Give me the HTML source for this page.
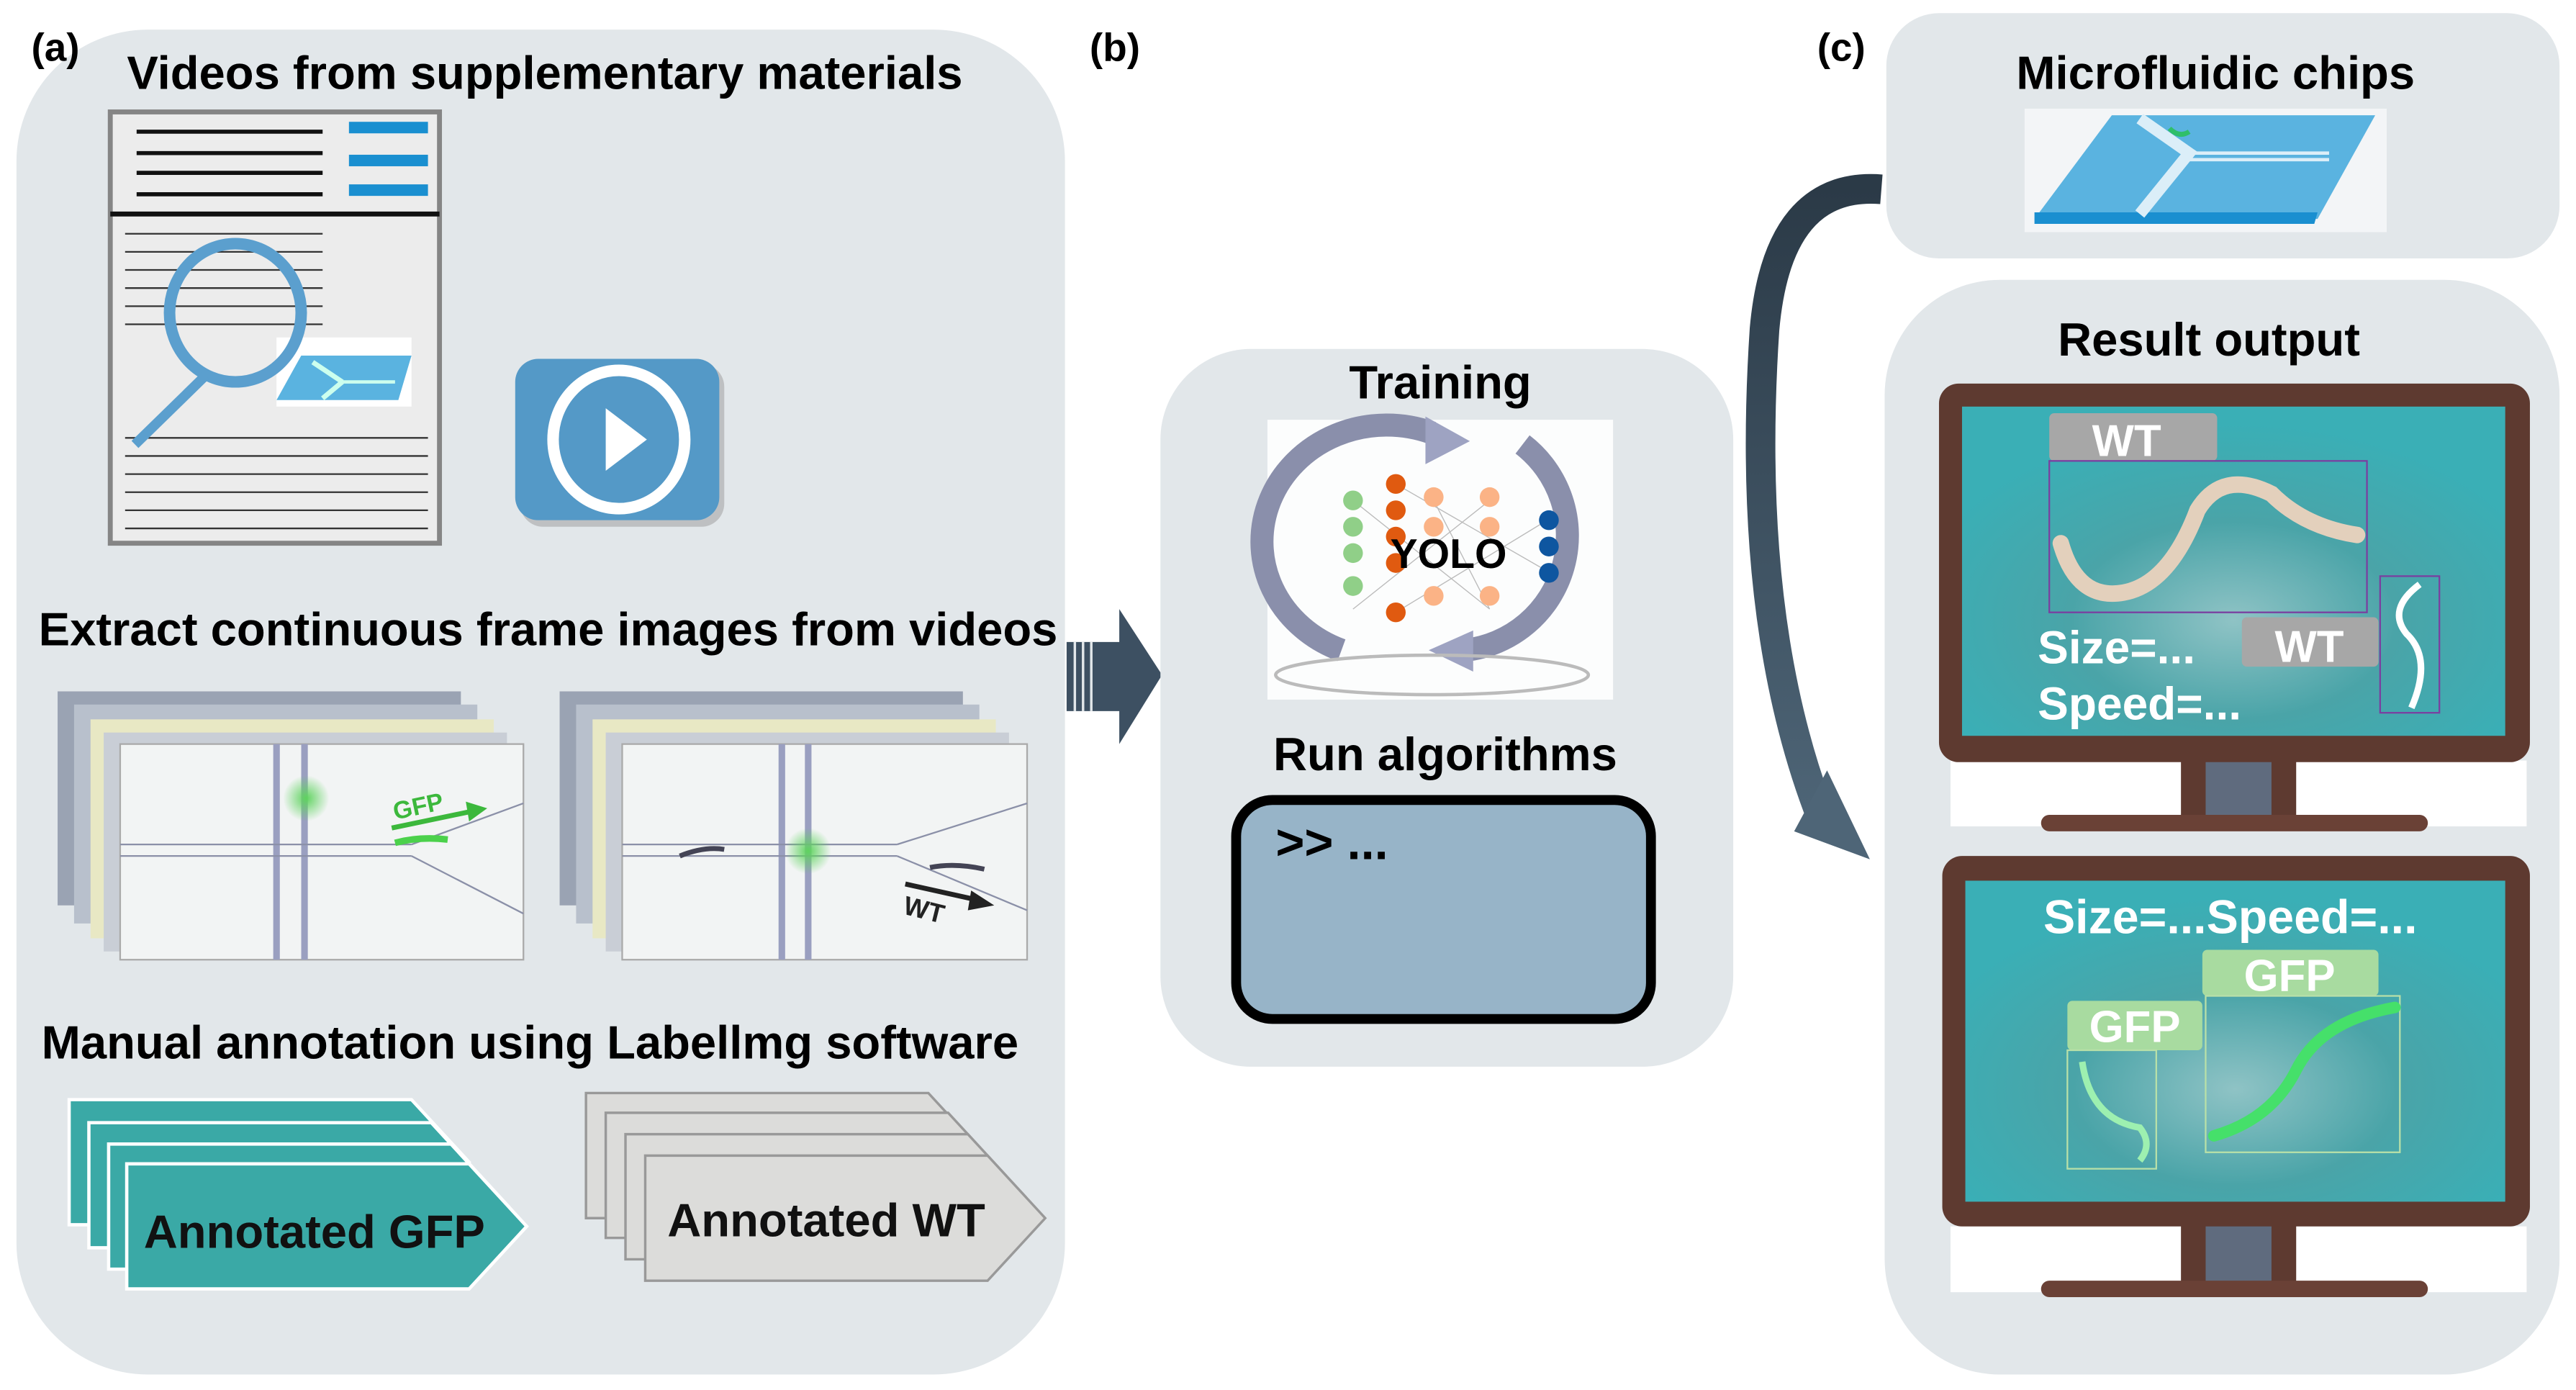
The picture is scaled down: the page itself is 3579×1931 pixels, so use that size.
<!DOCTYPE html>
<html><head><meta charset="utf-8"><style>
html,body{margin:0;padding:0;background:#fff;width:3579px;height:1931px;overflow:hidden}
svg{display:block}
text{font-family:"Liberation Sans",Arial,sans-serif;font-weight:bold}
</style></head><body>
<svg width="3579" height="1931" viewBox="0 0 1565 844.4" preserveAspectRatio="none" xmlns="http://www.w3.org/2000/svg">
<defs>
<radialGradient id="scr" cx="0.5" cy="0.65" r="0.6"><stop offset="0" stop-color="#8fc3c5"/><stop offset="0.5" stop-color="#4aa4a8"/><stop offset="1" stop-color="#3aafb6"/></radialGradient>
<linearGradient id="arr" x1="0" y1="0" x2="0" y2="1"><stop offset="0" stop-color="#2b3a47"/><stop offset="1" stop-color="#4e6577"/></linearGradient>
<radialGradient id="glow"><stop offset="0" stop-color="#5fd35f"/><stop offset="1" stop-color="#5fd35f" stop-opacity="0"/></radialGradient>
</defs>
<!-- panel a -->
<rect x="10" y="18" width="637" height="817" rx="80" fill="#e2e7ea"/>
<text x="19" y="37" font-size="24">(a)</text>
<text x="331" y="54" font-size="28.5" text-anchor="middle">Videos from supplementary materials</text>
<!-- document -->
<rect x="67" y="68" width="200" height="262" fill="#ececec" stroke="#858585" stroke-width="3"/>
<line x1="67" y1="130" x2="267" y2="130" stroke="#111" stroke-width="3"/>
<g stroke="#111" stroke-width="2.5"><line x1="83" y1="80" x2="196" y2="80"/><line x1="83" y1="93" x2="196" y2="93"/><line x1="83" y1="105" x2="196" y2="105"/><line x1="83" y1="118" x2="196" y2="118"/></g>
<g fill="#1a8fd0"><rect x="212" y="74" width="48" height="7"/><rect x="212" y="94" width="48" height="7"/><rect x="212" y="112" width="48" height="7"/></g>
<g stroke="#333" stroke-width="1"><line x1="76" y1="142" x2="196" y2="142"/><line x1="76" y1="153" x2="196" y2="153"/><line x1="76" y1="164" x2="196" y2="164"/><line x1="76" y1="175" x2="196" y2="175"/><line x1="76" y1="186" x2="196" y2="186"/><line x1="76" y1="197" x2="196" y2="197"/>
<line x1="76" y1="266" x2="260" y2="266"/><line x1="76" y1="277" x2="260" y2="277"/><line x1="76" y1="288" x2="260" y2="288"/><line x1="76" y1="299" x2="260" y2="299"/><line x1="76" y1="310" x2="260" y2="310"/><line x1="76" y1="321" x2="260" y2="321"/></g>
<rect x="168" y="205" width="82" height="42" fill="#fff"/>
<polygon points="183,216 250,216 242,243 168,243" fill="#5ab3e0"/>
<line x1="190" y1="220" x2="208" y2="232" stroke="#cfe" stroke-width="3"/><line x1="208" y1="232" x2="196" y2="242" stroke="#cfe" stroke-width="3"/><line x1="208" y1="232" x2="240" y2="232" stroke="#cfe" stroke-width="2"/>
<ellipse cx="143" cy="190" rx="40" ry="42" fill="none" stroke="#5b9fce" stroke-width="7"/>
<line x1="125" y1="228" x2="82" y2="270" stroke="#5b9fce" stroke-width="6"/>
<!-- play -->
<rect x="316" y="221" width="124" height="99" rx="14" fill="#999" opacity="0.5"/>
<rect x="313" y="218" width="124" height="98" rx="14" fill="#5499c7"/>
<ellipse cx="376" cy="267" rx="40" ry="42" fill="none" stroke="#fff" stroke-width="7"/>
<polygon points="368,248 368,286 393,267" fill="#fff"/>
<!-- extract -->
<text x="333" y="392" font-size="28.5" text-anchor="middle">Extract continuous frame images from videos</text>
<g>
<rect x="35" y="420" width="245" height="130" fill="#9aa3b3"/><rect x="45" y="428" width="245" height="133" fill="#b8c0cc"/><rect x="55" y="437" width="245" height="133" fill="#e8e8c4"/><rect x="63" y="445" width="245" height="133" fill="#c9ced6"/>
<rect x="73" y="452" width="245" height="131" fill="#f2f4f4" stroke="#aaa"/>
<rect x="166" y="452" width="4" height="131" fill="#9a9fc0"/><rect x="183" y="452" width="4" height="131" fill="#9a9fc0"/>
<line x1="73" y1="513" x2="250" y2="513" stroke="#8b90a8"/><line x1="73" y1="520" x2="250" y2="520" stroke="#8b90a8"/>
<line x1="250" y1="513" x2="318" y2="488" stroke="#8b90a8"/><line x1="250" y1="520" x2="318" y2="555" stroke="#8b90a8"/>
<circle cx="186" cy="485" r="14" fill="url(#glow)"/>
<path d="M240 512 Q255 508 272 510" stroke="#4bd14b" stroke-width="4" fill="none"/>
<line x1="238" y1="503" x2="286" y2="493" stroke="#3cb83c" stroke-width="3"/><polygon points="296,491 283,487 285,499" fill="#3cb83c"/>
<text x="240" y="498" font-size="15" fill="#3cb83c" transform="rotate(-12 240 498)">GFP</text>
</g>
<g>
<rect x="340" y="420" width="245" height="130" fill="#9aa3b3"/><rect x="350" y="428" width="245" height="133" fill="#b8c0cc"/><rect x="360" y="437" width="245" height="133" fill="#e8e8c4"/><rect x="368" y="445" width="245" height="133" fill="#c9ced6"/>
<rect x="378" y="452" width="246" height="131" fill="#f2f4f4" stroke="#aaa"/>
<rect x="473" y="452" width="4" height="131" fill="#9a9fc0"/><rect x="489" y="452" width="4" height="131" fill="#9a9fc0"/>
<line x1="378" y1="513" x2="545" y2="513" stroke="#8b90a8"/><line x1="378" y1="520" x2="545" y2="520" stroke="#8b90a8"/>
<line x1="545" y1="513" x2="624" y2="488" stroke="#8b90a8"/><line x1="545" y1="520" x2="624" y2="553" stroke="#8b90a8"/>
<circle cx="491" cy="517" r="14" fill="url(#glow)"/>
<path d="M413 520 Q428 514 440 516" stroke="#445" stroke-width="3" fill="none"/>
<path d="M565 527 Q580 524 598 528" stroke="#445" stroke-width="3" fill="none"/>
<line x1="550" y1="537" x2="595" y2="547" stroke="#222" stroke-width="3"/><polygon points="604,550 590,541 588,553" fill="#222"/>
<text x="548" y="555" font-size="16" fill="#222" transform="rotate(14 548 555)">WT</text>
</g>
<text x="322" y="643" font-size="28.5" text-anchor="middle">Manual annotation using Labellmg software</text>
<!-- GFP tags -->
<g fill="#3aa9a6" stroke="#fff" stroke-width="2">
<polygon points="42,668 250,668 285,706 250,744 42,744"/>
<polygon points="54,682 262,682 297,720 262,758 54,758"/>
<polygon points="66,695 274,695 309,733 274,771 66,771"/>
<polygon points="77,707 285,707 320,745 285,783 77,783"/>
</g>
<text x="191" y="758" font-size="28.5" text-anchor="middle" fill="#111">Annotated GFP</text>
<g fill="#dcdcda" stroke="#999" stroke-width="1.5">
<polygon points="356,664 564,664 599,702 564,740 356,740"/>
<polygon points="368,676 576,676 611,714 576,752 368,752"/>
<polygon points="380,689 588,689 623,727 588,765 380,765"/>
<polygon points="392,702 600,702 635,740 600,778 392,778"/>
</g>
<text x="502" y="751" font-size="28.5" text-anchor="middle" fill="#111">Annotated WT</text>
<!-- big arrow a->b -->
<polygon points="648,390 680,390 680,370 706,410 680,452 680,432 648,432" fill="#3d5062"/>
<g stroke="#e2e7ea" stroke-width="1.5"><line x1="653" y1="390" x2="653" y2="432"/><line x1="658" y1="390" x2="658" y2="432"/><line x1="663" y1="390" x2="663" y2="432"/></g>
<!-- panel b -->
<text x="662" y="37" font-size="24">(b)</text>
<rect x="705" y="212" width="348" height="436" rx="55" fill="#e2e7ea"/>
<text x="875" y="242" font-size="28.5" text-anchor="middle">Training</text>
<rect x="770" y="255" width="210" height="170" fill="#fff" opacity="0.9"/>
<path d="M870 263 A75 70 0 0 0 815 395" stroke="#8a8fab" stroke-width="14" fill="none"/>
<polygon points="866,253 893,268 866,282" fill="#9ea3c2"/>
<path d="M925 270 A70 70 0 0 1 890 395" stroke="#8a8fab" stroke-width="14" fill="none"/>
<polygon points="895,383 868,395 895,408" fill="#9ea3c2"/>
<g stroke="#bbb" stroke-width="0.6"><line x1="822" y1="304" x2="905" y2="370"/><line x1="822" y1="370" x2="905" y2="304"/><line x1="848" y1="294" x2="940" y2="347"/><line x1="848" y1="372" x2="940" y2="316"/><line x1="870" y1="302" x2="905" y2="370"/></g>
<g fill="#90cf88"><circle cx="822" cy="304" r="6"/><circle cx="822" cy="320" r="6"/><circle cx="822" cy="336" r="6"/><circle cx="822" cy="356" r="6"/></g>
<g fill="#e05a10"><circle cx="848" cy="294" r="6"/><circle cx="848" cy="310" r="6"/><circle cx="848" cy="326" r="6"/><circle cx="848" cy="342" r="6"/><circle cx="848" cy="372" r="6"/></g>
<g fill="#fbb386"><circle cx="871" cy="302" r="6"/><circle cx="871" cy="320" r="6"/><circle cx="871" cy="362" r="6"/><circle cx="905" cy="302" r="6"/><circle cx="905" cy="320" r="6"/><circle cx="905" cy="362" r="6"/></g>
<g fill="#0e56a0"><circle cx="941" cy="316" r="6"/><circle cx="941" cy="332" r="6"/><circle cx="941" cy="348" r="6"/></g>
<text x="880" y="345" font-size="25" text-anchor="middle">YOLO</text>
<ellipse cx="870" cy="410" rx="95" ry="12" fill="none" stroke="#bbb" stroke-width="2"/>
<text x="878" y="468" font-size="28.5" text-anchor="middle">Run algorithms</text>
<rect x="751" y="486" width="252" height="133" rx="22" fill="#97b4c8" stroke="#000" stroke-width="6"/>
<text x="775" y="522" font-size="30">&gt;&gt; ...</text>
<!-- panel c -->
<text x="1104" y="37" font-size="24">(c)</text>
<rect x="1146" y="8" width="409" height="149" rx="32" fill="#e2e7ea"/>
<text x="1346" y="54" font-size="28.5" text-anchor="middle">Microfluidic chips</text>
<rect x="1230" y="66" width="220" height="75" fill="#fff" opacity="0.6"/>
<polygon points="1283,70 1443,70 1408,133 1236,133" fill="#5ab3e0"/>
<polygon points="1236,129 1408,129 1406,136 1236,136" fill="#1a8fd0"/>
<path d="M1300 72 L1330 93 L1300 130" stroke="#dbeef8" stroke-width="7" fill="none"/>
<line x1="1330" y1="93" x2="1415" y2="93" stroke="#dbeef8" stroke-width="2"/><line x1="1330" y1="97" x2="1415" y2="97" stroke="#dbeef8" stroke-width="2"/>
<path d="M1318 78 Q1324 84 1330 80" stroke="#2fbf6a" stroke-width="3" fill="none"/>
<!-- curved arrow -->
<path d="M1143 115 Q1080 110 1072 200 Q1060 380 1108 500" stroke="url(#arr)" stroke-width="18" fill="none"/>
<polygon points="1090,505 1136,522 1110,468" fill="#4e6577"/>
<rect x="1145" y="170" width="410" height="665" rx="70" fill="#e2e7ea"/>
<text x="1342" y="216" font-size="28.5" text-anchor="middle">Result output</text>
<!-- monitor1 -->
<rect x="1185" y="462" width="350" height="40" fill="#fff"/>
<rect x="1325" y="460" width="70" height="40" fill="#5e3a30"/><rect x="1340" y="460" width="40" height="36" fill="#5f6b7e"/>
<rect x="1240" y="495" width="235" height="10" rx="5" fill="#6a4136"/>
<rect x="1178" y="233" width="359" height="230" rx="12" fill="#5e3a30"/>
<rect x="1192" y="247" width="330" height="200" fill="url(#scr)"/>
<rect x="1245" y="251" width="102" height="29" rx="3" fill="#a7a7a7"/>
<text x="1292" y="277" font-size="27" fill="#fff" text-anchor="middle">WT</text>
<rect x="1245" y="280" width="193" height="92" fill="none" stroke="#7a3fa0" stroke-width="1"/>
<path d="M1252 330 Q1262 365 1290 360 Q1318 355 1335 310 Q1350 285 1380 300 Q1400 320 1432 325" stroke="#e3d0bc" stroke-width="10" fill="none" stroke-linecap="round"/>
<rect x="1362" y="375" width="83" height="30" rx="3" fill="#a7a7a7"/>
<text x="1403" y="402" font-size="27" fill="#fff" text-anchor="middle">WT</text>
<rect x="1446" y="350" width="36" height="83" fill="none" stroke="#7a3fa0" stroke-width="1"/>
<path d="M1470 355 Q1450 370 1462 385 Q1478 400 1465 430" stroke="#fff" stroke-width="4" fill="none"/>
<text x="1238" y="403" font-size="28" fill="#fff">Size=...</text>
<text x="1238" y="437" font-size="28" fill="#fff">Speed=...</text>
<!-- monitor2 -->
<rect x="1185" y="745" width="350" height="40" fill="#fff"/>
<rect x="1325" y="743" width="70" height="40" fill="#5e3a30"/><rect x="1340" y="743" width="40" height="36" fill="#5f6b7e"/>
<rect x="1240" y="778" width="235" height="10" rx="5" fill="#6a4136"/>
<rect x="1180" y="520" width="357" height="225" rx="12" fill="#5e3a30"/>
<rect x="1194" y="535" width="328" height="195" fill="url(#scr)"/>
<text x="1355" y="567" font-size="29" fill="#fff" text-anchor="middle">Size=...Speed=...</text>
<rect x="1338" y="577" width="107" height="28" rx="3" fill="#a8dba0"/>
<text x="1391" y="602" font-size="27" fill="#fff" text-anchor="middle">GFP</text>
<rect x="1340" y="605" width="118" height="95" fill="none" stroke="#b8e0a8" stroke-width="1"/>
<path d="M1345 690 Q1380 680 1395 650 Q1410 620 1455 612" stroke="#45e06a" stroke-width="7" fill="none" stroke-linecap="round"/>
<rect x="1256" y="608" width="82" height="30" rx="3" fill="#a8dba0"/>
<text x="1297" y="633" font-size="27" fill="#fff" text-anchor="middle">GFP</text>
<rect x="1256" y="638" width="54" height="72" fill="none" stroke="#b8e0a8" stroke-width="1"/>
<path d="M1265 645 Q1270 680 1300 685 Q1308 695 1300 705" stroke="#9df0b0" stroke-width="4" fill="none"/>
</svg>
</body></html>
